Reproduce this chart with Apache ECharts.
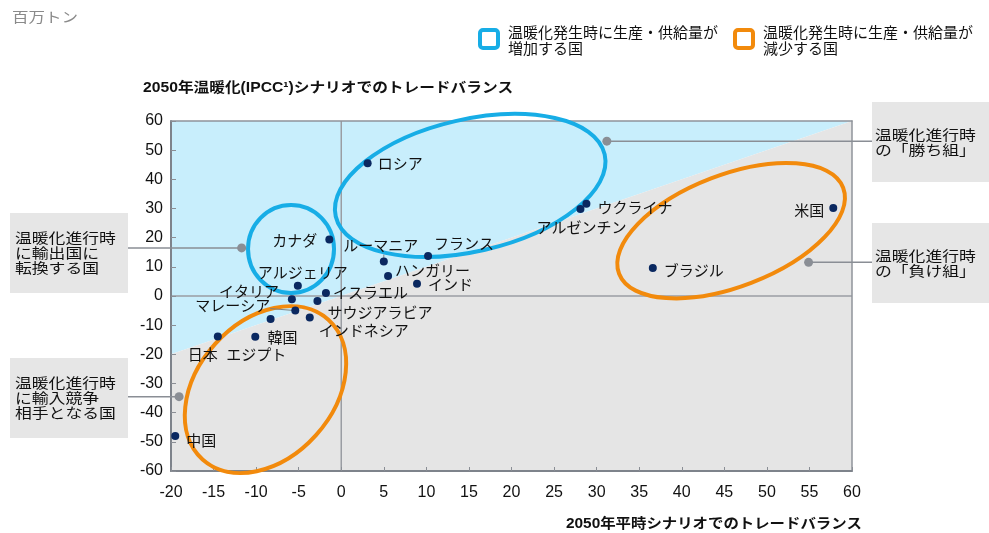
<!DOCTYPE html>
<html>
<head>
<meta charset="utf-8">
<script src="https://cdn.jsdelivr.net/npm/echarts@6/dist/echarts.min.js"></script>
<style>
html,body{margin:0;padding:0;background:#fff;}
#chart{width:989px;height:533px;}
</style>
</head>
<body>
<div id="chart"></div>
<script>
// Trade balance (million tonnes) in 2050: normal scenario (x) vs. warming scenario (y)
const countries = ['ロシア','カナダ','ルーマニア','フランス','ハンガリー','インド','アルジェリア','イスラエル','イタリア','サウジアラビア','マレーシア','インドネシア','韓国','エジプト','日本','中国','ウクライナ','アルゼンチン','米国','ブラジル'];
const normalBalance  = [3.1, -1.4, 5.0, 10.2, 5.5, 8.9, -5.1, -1.8, -5.8, -2.8, -5.4, -3.7, -8.3, -10.1, -14.5, -19.5, 28.8, 28.1, 57.8, 36.6];
const warmingBalance = [45.5, 19.4, 11.8, 13.7, 6.9, 4.2, 3.5, 1.0, -1.1, -1.7, -5.0, -7.4, -7.9, -14.0, -13.9, -48.0, 31.6, 29.8, 30.2, 9.6];

// Axis ranges and tick steps
const xRange = [-20, 60];
const xStep = 5;
const yRange = [-60, 60];
const yStep = 10;

// Text
const unitText = '百万トン';
const yTitle = '2050年温暖化(IPCC¹)シナリオでのトレードバランス';
const xTitle = '2050年平時シナリオでのトレードバランス';
const legendTexts = ['温暖化発生時に生産・供給量が\n増加する国', '温暖化発生時に生産・供給量が\n減少する国'];
const calloutTexts = ['温暖化進行時\nに輸出国に\n転換する国', '温暖化進行時\nに輸入競争\n相手となる国', '温暖化進行時\nの「勝ち組」', '温暖化進行時\nの「負け組」'];

// Styles
const BLUE = '#17ade6';
const ORANGE = '#f28a0c';
const DOT = '#0a2860';
const GREY_LINE = '#8a8e95';
const CJK = "'Noto Sans CJK JP', sans-serif";
const LATIN = "'Liberation Sans', 'Noto Sans CJK JP', sans-serif";

// Label placement next to each dot
const labelPlacement = {
  'ロシア':        {position: 'right',  distance: 6, offset: [0, 0]},
  'カナダ':        {position: 'left',   distance: 8, offset: [0, 1]},
  'ルーマニア':    {position: 'top',    distance: 5, offset: [-3, 0]},
  'フランス':      {position: 'right',  distance: 2, offset: [0, -13]},
  'ハンガリー':    {position: 'right',  distance: 3, offset: [0, -6]},
  'インド':        {position: 'right',  distance: 7, offset: [0, 1]},
  'アルジェリア':  {position: 'top',    distance: 2, offset: [5, 0]},
  'イスラエル':    {position: 'right',  distance: 3, offset: [0, -1]},
  'イタリア':      {position: 'left',   distance: 9, offset: [0, -8]},
  'サウジアラビア':{position: 'right',  distance: 6, offset: [0, 11]},
  'マレーシア':    {position: 'left',   distance: 21, offset: [0, -5]},
  'インドネシア':  {position: 'right',  distance: 5, offset: [0, 13]},
  '韓国':          {position: 'bottom', distance: 7, offset: [12, 0]},
  'エジプト':      {position: 'bottom', distance: 6, offset: [1, 0]},
  '日本':          {position: 'bottom', distance: 6, offset: [-15, 0]},
  '中国':          {position: 'right',  distance: 7, offset: [0, 4]},
  'ウクライナ':    {position: 'right',  distance: 7, offset: [0, 3]},
  'アルゼンチン':  {position: 'bottom', distance: 7, offset: [1, 0]},
  '米国':          {position: 'left',   distance: 5, offset: [0, 2]},
  'ブラジル':      {position: 'right',  distance: 7, offset: [0, 2]}
};

// Group outlines: centre in data units, radii in pixels, tilt in degrees
const groupOutlines = [
  {center: [-5.9, 16.1],  rx: 43,  ry: 44, tilt: 0,  color: BLUE},
  {center: [15.15, 37.9], rx: 138, ry: 66, tilt: 13, color: BLUE},
  {center: [45.8, 22.4],  rx: 120, ry: 56, tilt: 21, color: ORANGE},
  {center: [-8.9, -32.1], rx: 94,  ry: 68, tilt: 48, color: ORANGE}
];

// Callout anchors (data units) and their boxes (pixels)
const callouts = [
  {anchor: [-11.7, 16.5],  box: [10, 213, 118, 80],  side: 'left'},
  {anchor: [-19.05, -34.5], box: [10, 358, 118, 80], side: 'left'},
  {anchor: [31.2, 53.1],   box: [872, 102, 117, 80], side: 'right'},
  {anchor: [54.9, 11.55],  box: [872, 223, 117, 80], side: 'right'}
];

const chart = echarts.init(document.getElementById('chart'), null, {renderer: 'canvas'});

const scatterData = countries.map((name, i) => {
  const p = labelPlacement[name];
  return {
    name: name,
    value: [normalBalance[i], warmingBalance[i]],
    label: {position: p.position, distance: p.distance, offset: p.offset}
  };
});

const axisLabelStyle = {fontSize: 16, color: '#111', fontFamily: LATIN};

const option = {
  animation: false,
  backgroundColor: '#ffffff',
  grid: {left: 171, top: 121, width: 681, height: 350, containLabel: false},
  xAxis: [
    {
      type: 'value', min: xRange[0], max: xRange[1], interval: xStep, position: 'bottom', z: 3,
      axisLine: {show: true, onZero: false, lineStyle: {color: '#7e838b', width: 2}},
      axisTick: {show: true, inside: true, length: 4, lineStyle: {color: '#8a8e95', width: 1}},
      axisLabel: Object.assign({margin: 14}, axisLabelStyle),
      splitLine: {show: false}
    },
    {
      type: 'value', min: xRange[0], max: xRange[1], interval: xStep, position: 'top', z: 3,
      axisLine: {show: true, onZero: false, lineStyle: {color: '#8f939a', width: 1.5}},
      axisTick: {show: false}, axisLabel: {show: false}, splitLine: {show: false}
    }
  ],
  yAxis: [
    {
      type: 'value', min: yRange[0], max: yRange[1], interval: yStep, position: 'left', z: 3,
      axisLine: {show: true, onZero: false, lineStyle: {color: '#7e838b', width: 2}},
      axisTick: {show: true, inside: true, length: 5, lineStyle: {color: '#8a8e95', width: 1}},
      axisLabel: Object.assign({margin: 8}, axisLabelStyle),
      splitLine: {show: false}
    },
    {
      type: 'value', min: yRange[0], max: yRange[1], interval: yStep, position: 'right', z: 3,
      axisLine: {show: true, onZero: false, lineStyle: {color: '#8f939a', width: 1.5}},
      axisTick: {show: false}, axisLabel: {show: false}, splitLine: {show: false}
    }
  ],
  series: [
    {
      // regions above / below the diagonal y = x, plus the zero lines
      type: 'custom', z: 1, silent: true, clip: false,
      data: [[0, 0]],
      renderItem: function (params, api) {
        const p = (x, y) => api.coord([x, y]);
        const [x0, x1] = xRange, [y0, y1] = yRange;
        return {
          type: 'group',
          children: [
            {type: 'polygon', shape: {points: [p(x0, x0), p(x0, y1), p(x1, y1)]}, style: {fill: '#c8eefc'}},
            {type: 'polygon', shape: {points: [p(x0, y0), p(x1, y0), p(x1, x1), p(x0, x0)]}, style: {fill: '#e5e5e5'}},
            {type: 'line', shape: {x1: p(0, y0)[0], y1: p(0, y0)[1], x2: p(0, y1)[0], y2: p(0, y1)[1]}, style: {stroke: '#9a9da3', lineWidth: 1.5}},
            {type: 'line', shape: {x1: p(x0, 0)[0], y1: p(x0, 0)[1], x2: p(x1, 0)[0], y2: p(x1, 0)[1]}, style: {stroke: '#9a9da3', lineWidth: 1.5}}
          ]
        };
      }
    },
    {
      // group outlines
      type: 'custom', z: 4, silent: true, clip: false,
      data: groupOutlines.map((g, i) => [g.center[0], g.center[1], i]),
      renderItem: function (params, api) {
        const g = groupOutlines[api.value(2)];
        const c = api.coord([api.value(0), api.value(1)]);
        return {
          type: 'ellipse',
          x: c[0], y: c[1],
          rotation: g.tilt * Math.PI / 180,
          shape: {cx: 0, cy: 0, rx: g.rx, ry: g.ry},
          style: {fill: 'none', stroke: g.color, lineWidth: 4}
        };
      }
    },
    {
      type: 'scatter', z: 6,
      symbol: 'circle', symbolSize: 8,
      itemStyle: {color: DOT, opacity: 1},
      label: {show: true, formatter: '{b}', fontSize: 15, color: '#111', fontFamily: CJK, opacity: 1},
      data: scatterData
    }
  ]
};

chart.setOption(option);

// Overlay: unit, titles, legend, callout boxes and leader lines
const toPx = (x, y) => chart.convertToPixel({xAxisIndex: 0, yAxisIndex: 0}, [x, y]);

function textEl(x, y, text, opts) {
  return {
    type: 'text', x: x, y: y, z: 100,
    scaleX: opts.scaleX || 1, scaleY: 1,
    style: {
      text: text,
      fontSize: opts.fontSize, fontWeight: opts.fontWeight || 'normal',
      fontFamily: opts.fontFamily || CJK,
      lineHeight: opts.lineHeight || opts.fontSize,
      fill: opts.color || '#1a1a1a',
      align: opts.align || 'left', textAlign: opts.align || 'left',
      verticalAlign: 'middle', textVerticalAlign: 'middle'
    }
  };
}

const graphics = [];
graphics.push(textEl(12, 17, unitText, {fontSize: 14, scaleX: 1.18, color: '#8a8a8a'}));
graphics.push(textEl(143, 88, yTitle, {fontSize: 14, fontWeight: 'bold', scaleX: 1.12, fontFamily: LATIN, color: '#111'}));
graphics.push(textEl(862, 524, xTitle, {fontSize: 14, fontWeight: 'bold', scaleX: 1.1, fontFamily: LATIN, color: '#111', align: 'right'}));

// legend
[[480, BLUE, 508], [735, ORANGE, 763]].forEach((l, i) => {
  graphics.push({type: 'rect', z: 100, shape: {x: l[0], y: 30, width: 18, height: 18, r: 3},
    style: {fill: '#ffffff', stroke: l[1], lineWidth: 4}});
  graphics.push(textEl(l[2], 40, legendTexts[i], {fontSize: 15, lineHeight: 16, color: '#111'}));
});

// callouts
callouts.forEach((c, i) => {
  const [bx, by, bw, bh] = c.box;
  graphics.push({type: 'rect', z: 90, shape: {x: bx, y: by, width: bw, height: bh}, style: {fill: '#e6e6e6'}});
  graphics.push(textEl(c.side === 'left' ? bx + 5 : bx + 3, by + bh / 2, calloutTexts[i],
    {fontSize: 14, scaleX: 1.2, lineHeight: 15, color: '#111'}));
  const a = toPx(c.anchor[0], c.anchor[1]);
  const edge = c.side === 'left' ? bx + bw : bx;
  graphics.push({type: 'line', z: 91, shape: {x1: edge, y1: a[1], x2: a[0], y2: a[1]},
    style: {stroke: GREY_LINE, lineWidth: 1.5}});
  graphics.push({type: 'circle', z: 92, shape: {cx: a[0], cy: a[1], r: 4.5}, style: {fill: GREY_LINE}});
});

// short leader lines for two crowded labels
const iRo = countries.indexOf('ルーマニア');
const pRo = toPx(normalBalance[iRo], warmingBalance[iRo]);
graphics.push({type: 'line', z: 5, shape: {x1: pRo[0], y1: pRo[1], x2: pRo[0], y2: pRo[1] - 7}, style: {stroke: '#7f7f7f', lineWidth: 1}});
const iMa = countries.indexOf('マレーシア');
const pMa = toPx(normalBalance[iMa], warmingBalance[iMa]);
graphics.push({type: 'line', z: 5, shape: {x1: pMa[0], y1: pMa[1], x2: pMa[0] - 25, y2: pMa[1] - 2}, style: {stroke: '#7f7f7f', lineWidth: 1}});

chart.setOption({graphic: graphics});
</script>
</body>
</html>
